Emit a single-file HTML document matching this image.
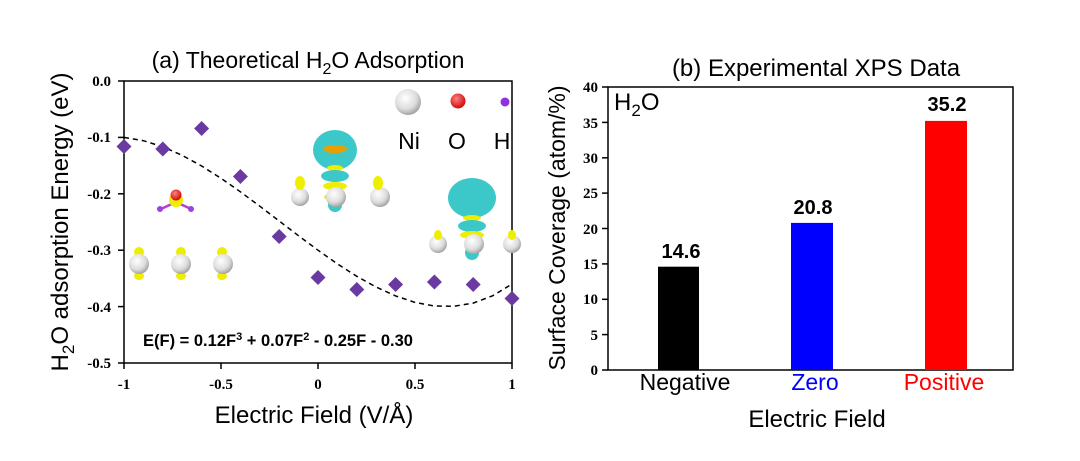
<!DOCTYPE html>
<html><head><meta charset="utf-8"><style>
body{margin:0;background:#fff;}
svg{display:block;}
.t{font-family:"Liberation Sans",sans-serif;}
.s{font-family:"Liberation Serif",serif;font-weight:bold;}
</style></head><body>
<svg width="1080" height="461" viewBox="0 0 1080 461" xmlns="http://www.w3.org/2000/svg">
<defs>
<radialGradient id="ni" cx="0.4" cy="0.35" r="0.7"><stop offset="0" stop-color="#fff"/><stop offset="0.6" stop-color="#ddd"/><stop offset="1" stop-color="#999"/></radialGradient>
<radialGradient id="o" cx="0.4" cy="0.35" r="0.7"><stop offset="0" stop-color="#ff8080"/><stop offset="1" stop-color="#c00"/></radialGradient>
</defs>
<!-- Left plot -->
<text class="t" x="308" y="68" font-size="23" text-anchor="middle">(a) Theoretical H<tspan font-size="16" dy="6">2</tspan><tspan dy="-6">O Adsorption</tspan></text>
<rect x="124" y="81" width="388" height="282" fill="none" stroke="#000" stroke-width="1.5"/>
<g stroke="#000" stroke-width="1.5">
<line x1="124" y1="81" x2="118" y2="81"/><line x1="124" y1="137.4" x2="118" y2="137.4"/><line x1="124" y1="193.8" x2="118" y2="193.8"/><line x1="124" y1="250.2" x2="118" y2="250.2"/><line x1="124" y1="306.6" x2="118" y2="306.6"/><line x1="124" y1="363" x2="118" y2="363"/>
<line x1="124" y1="363" x2="124" y2="369"/><line x1="221" y1="363" x2="221" y2="369"/><line x1="318" y1="363" x2="318" y2="369"/><line x1="415" y1="363" x2="415" y2="369"/><line x1="512" y1="363" x2="512" y2="369"/>
</g>
<g class="s" font-size="15" text-anchor="end">
<text x="111" y="86">0.0</text><text x="111" y="142">-0.1</text><text x="111" y="199">-0.2</text><text x="111" y="255">-0.3</text><text x="111" y="312">-0.4</text><text x="111" y="368">-0.5</text>
</g>
<g class="s" font-size="15" text-anchor="middle">
<text x="124" y="389">-1</text><text x="221" y="389">-0.5</text><text x="318" y="389">0</text><text x="415" y="389">0.5</text><text x="512" y="389">1</text>
</g>
<text class="t" x="314" y="423" font-size="24" text-anchor="middle">Electric Field (V/Å)</text>
<text class="t" font-size="24" text-anchor="middle" transform="translate(68,222) rotate(-90)">H<tspan font-size="17" dy="6">2</tspan><tspan dy="-6">O adsorption Energy (eV)</tspan></text>
<!-- structures -->
<g>
<ellipse cx="335" cy="150" rx="22" ry="20" fill="#3cc8c8"/>
<ellipse cx="335" cy="149" rx="12" ry="4" fill="#e8a000"/>
<ellipse cx="335" cy="168" rx="8" ry="3" fill="#ee0"/>
<ellipse cx="335" cy="176" rx="14" ry="6" fill="#3cc8c8"/>
<ellipse cx="335" cy="186" rx="12" ry="4" fill="#ee0"/>
<ellipse cx="335" cy="205" rx="7" ry="7" fill="#3cc8c8"/>
<ellipse cx="335" cy="197" rx="11" ry="4" fill="#ee0"/>
<circle cx="336" cy="197" r="10" fill="url(#ni)"/>
<circle cx="300" cy="197" r="9" fill="url(#ni)"/><circle cx="380" cy="197" r="10" fill="url(#ni)"/>
<ellipse cx="300" cy="183" rx="5" ry="7" fill="#ee0"/><ellipse cx="378" cy="183" rx="5" ry="7" fill="#ee0"/>
<ellipse cx="472" cy="198" rx="24" ry="20" fill="#3cc8c8"/>
<ellipse cx="472" cy="218" rx="9" ry="3" fill="#ee0"/>
<ellipse cx="472" cy="226" rx="14" ry="6" fill="#3cc8c8"/>
<ellipse cx="472" cy="235" rx="12" ry="4" fill="#ee0"/>
<ellipse cx="472" cy="253" rx="7" ry="7" fill="#3cc8c8"/>
<circle cx="474" cy="244" r="10" fill="url(#ni)"/>
<circle cx="438" cy="244" r="9" fill="url(#ni)"/><circle cx="512" cy="244" r="9" fill="url(#ni)"/>
<ellipse cx="438" cy="235" rx="4" ry="5" fill="#ee0"/><ellipse cx="512" cy="235" rx="4" ry="5" fill="#ee0"/>
<ellipse cx="139" cy="252" rx="5" ry="5" fill="#ee0"/><ellipse cx="139" cy="276" rx="5" ry="4" fill="#ee0"/>
<ellipse cx="181" cy="252" rx="5" ry="5" fill="#ee0"/><ellipse cx="181" cy="276" rx="5" ry="4" fill="#ee0"/>
<ellipse cx="222" cy="252" rx="5" ry="5" fill="#ee0"/><ellipse cx="222" cy="276" rx="5" ry="4" fill="#ee0"/>
<circle cx="139" cy="264" r="10" fill="url(#ni)"/><circle cx="181" cy="264" r="10" fill="url(#ni)"/><circle cx="223" cy="264" r="10" fill="url(#ni)"/>
<line x1="176" y1="202" x2="161" y2="209" stroke="#b040d0" stroke-width="2.5"/><line x1="176" y1="202" x2="191" y2="209" stroke="#b040d0" stroke-width="2.5"/>
<circle cx="176" cy="200" r="7" fill="#ee0"/><circle cx="176" cy="195" r="5.5" fill="url(#o)"/>
<circle cx="160" cy="209" r="3" fill="#a040e0"/><circle cx="191" cy="209" r="3" fill="#a040e0"/>
<circle cx="408" cy="102" r="13" fill="url(#ni)"/>
<circle cx="458" cy="101" r="7.5" fill="url(#o)"/>
<circle cx="505" cy="102" r="4.5" fill="#9030e0"/>
<text class="t" x="409" y="149" font-size="23" text-anchor="middle">Ni</text>
<text class="t" x="457" y="149" font-size="23" text-anchor="middle">O</text>
<text class="t" x="502" y="149" font-size="23" text-anchor="middle">H</text>
</g>
<!-- dashed curve -->
<path d="M124,137.4 L143.4,140.7 L162.8,146.8 L182.2,155.4 L201.6,166 L221,178.3 L240.4,191.8 L259.8,206.2 L279.2,221 L298.6,235.8 L318,250.2 L337.4,263.9 L356.8,276.3 L376.2,287.1 L395.6,295.9 L415,302.4 L434.4,306 L453.8,306.3 L473.2,303.1 L492.6,295.8 L512,284" fill="none" stroke="#000" stroke-width="1.5" stroke-dasharray="5,4"/>
<!-- diamonds -->
<g fill="#6a3aa0">
<path d="M124 139 l7.5 7.5 l-7.5 7.5 l-7.5 -7.5z"/>
<path d="M162.8 141.5 l7.5 7.5 l-7.5 7.5 l-7.5 -7.5z"/>
<path d="M201.6 121 l7.5 7.5 l-7.5 7.5 l-7.5 -7.5z"/>
<path d="M240.4 169 l7.5 7.5 l-7.5 7.5 l-7.5 -7.5z"/>
<path d="M279.2 229 l7.5 7.5 l-7.5 7.5 l-7.5 -7.5z"/>
<path d="M318 270 l7.5 7.5 l-7.5 7.5 l-7.5 -7.5z"/>
<path d="M356.8 282 l7.5 7.5 l-7.5 7.5 l-7.5 -7.5z"/>
<path d="M395.6 277 l7.5 7.5 l-7.5 7.5 l-7.5 -7.5z"/>
<path d="M434.4 274.5 l7.5 7.5 l-7.5 7.5 l-7.5 -7.5z"/>
<path d="M473.2 277 l7.5 7.5 l-7.5 7.5 l-7.5 -7.5z"/>
<path d="M512 291 l7.5 7.5 l-7.5 7.5 l-7.5 -7.5z"/>
</g>
<text class="t" x="143" y="346" font-size="16.5" font-weight="bold">E(F) = 0.12F<tspan font-size="11" dy="-6">3</tspan><tspan dy="6"> + 0.07F</tspan><tspan font-size="11" dy="-6">2</tspan><tspan dy="6"> - 0.25F - 0.30</tspan></text>

<!-- Right plot -->
<text class="t" x="816" y="76" font-size="24" text-anchor="middle">(b) Experimental XPS Data</text>
<rect x="608" y="87" width="405" height="283" fill="none" stroke="#000" stroke-width="1.5"/>
<g stroke="#000" stroke-width="1.5">
<line x1="608" y1="87" x2="602" y2="87"/><line x1="608" y1="122.4" x2="602" y2="122.4"/><line x1="608" y1="157.8" x2="602" y2="157.8"/><line x1="608" y1="193.1" x2="602" y2="193.1"/><line x1="608" y1="228.5" x2="602" y2="228.5"/><line x1="608" y1="263.9" x2="602" y2="263.9"/><line x1="608" y1="299.3" x2="602" y2="299.3"/><line x1="608" y1="334.6" x2="602" y2="334.6"/><line x1="608" y1="370" x2="602" y2="370"/>
</g>
<g class="s" font-size="15" text-anchor="end">
<text x="598" y="92">40</text><text x="598" y="128">35</text><text x="598" y="163">30</text><text x="598" y="198">25</text><text x="598" y="234">20</text><text x="598" y="269">15</text><text x="598" y="304">10</text><text x="598" y="340">5</text><text x="598" y="375">0</text>
</g>
<text class="t" x="614" y="110" font-size="24">H<tspan font-size="17" dy="6">2</tspan><tspan dy="-6">O</tspan></text>
<rect x="658" y="266.7" width="41" height="103.3" fill="#000"/>
<rect x="791" y="222.9" width="42" height="147.1" fill="#00f"/>
<rect x="925" y="120.9" width="42" height="249.1" fill="#f00"/>
<g class="t" font-size="20" font-weight="bold" text-anchor="middle">
<text x="681" y="258">14.6</text><text x="813" y="214">20.8</text><text x="947" y="111">35.2</text>
</g>
<g class="t" font-size="23" text-anchor="middle">
<text x="685" y="390">Negative</text>
<text x="815" y="390" fill="#00f">Zero</text>
<text x="944" y="390" fill="#f00">Positive</text>
<text x="817" y="427" font-size="24">Electric Field</text>
</g>
<text class="t" font-size="23" text-anchor="middle" transform="translate(565,228) rotate(-90)">Surface Coverage (atom/%)</text>
</svg>
</body></html>
